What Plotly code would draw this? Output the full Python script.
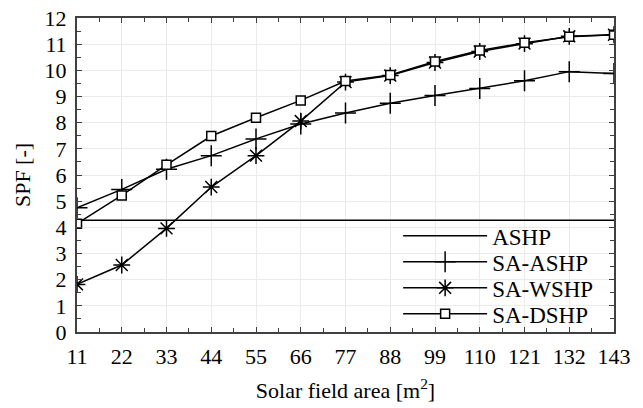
import plotly.graph_objects as go

area = [11, 22, 33, 44, 55, 66, 77, 88, 99, 110, 121, 132, 143]
ashp = [4.27] * 13
sa_ashp = [4.75, 5.45, 6.22, 6.74, 7.38, 7.95, 8.37, 8.74, 9.04, 9.31, 9.6, 9.95, 9.88]
sa_wshp = [1.82, 2.56, 3.96, 5.54, 6.74, 8.06, 9.55, 9.8, 10.3, 10.72, 11.02, 11.3, 11.36]
sa_dshp = [4.14, 5.22, 6.39, 7.49, 8.19, 8.85, 9.59, 9.82, 10.34, 10.76, 11.05, 11.28, 11.36]

FONT = "Liberation Serif"
fig = go.Figure()
fig.add_trace(go.Scatter(x=area, y=ashp, mode="lines", name="ASHP", legend="legend",
                         showlegend=True, line=dict(color="black", width=1.5)))
fig.add_trace(go.Scatter(x=area, y=sa_ashp, mode="lines+markers", name="SA-ASHP",
                         legend="legend2", line=dict(color="black", width=1.5),
                         marker=dict(symbol="cross-thin-open", size=15, color="black",
                                     line=dict(color="black", width=1.5))))
fig.add_trace(go.Scatter(x=area, y=sa_wshp, mode="lines+markers", name="SA-WSHP",
                         legend="legend3", line=dict(color="black", width=1.5),
                         marker=dict(symbol="asterisk-open", size=14, color="black",
                                     line=dict(color="black", width=1.5))))
fig.add_trace(go.Scatter(x=area, y=sa_dshp, mode="lines+markers", name="SA-DSHP",
                         legend="legend4", line=dict(color="black", width=1.5),
                         marker=dict(symbol="square", size=9, color="white",
                                     line=dict(color="black", width=1.5))))

axis_common = dict(showline=True, linecolor="#404040", linewidth=2, mirror="ticks",
                   ticks="inside", ticklen=5, tickcolor="#404040", tickwidth=1,
                   showgrid=True, gridcolor="#ebebeb", gridwidth=1, zeroline=False,
                   automargin=False,
                   tickfont=dict(family=FONT, size=22, color="black"))
fig.update_xaxes(range=[11, 143], tickvals=area, ticktext=[str(a) for a in area],
                 ticklabelstandoff=4,
                 minor=dict(ticks="inside", ticklen=4, dtick=5.5, tick0=11,
                            tickcolor="#404040", showgrid=False),
                 title=dict(text="Solar field area [m<sup>2</sup>]",
                            font=dict(family=FONT, size=22, color="black"), standoff=14),
                 **axis_common)
fig.update_yaxes(range=[0, 12], dtick=1, tick0=0, ticklabelstandoff=4,
                 minor=dict(ticks="inside", ticklen=4, dtick=0.5, tick0=0,
                            tickcolor="#404040", showgrid=False),
                 title=dict(text="SPF [-]", font=dict(family=FONT, size=22, color="black"),
                            standoff=8),
                 **axis_common)

def leg(ypos):
    return dict(x=0.598, y=ypos, xanchor="left", yanchor="middle",
                bgcolor="rgba(0,0,0,0)", borderwidth=0, itemwidth=84,
                font=dict(family=FONT, size=23, color="black"))

# white background panel behind the legend entries (hides gridlines only)
fig.add_shape(type="rect", xref="paper", yref="paper", x0=0.598, x1=0.988,
              y0=0.006, y1=0.342, fillcolor="white", line=dict(width=0),
              layer="between")

fig.update_layout(width=643, height=408, margin=dict(l=77, r=29, t=18, b=76),
                  plot_bgcolor="white", paper_bgcolor="white", showlegend=True,
                  font=dict(family=FONT, size=22, color="black"),
                  legend=leg(0.306), legend2=leg(0.2234),
                  legend3=leg(0.1406), legend4=leg(0.0578))
fig.write_html("out.html")
